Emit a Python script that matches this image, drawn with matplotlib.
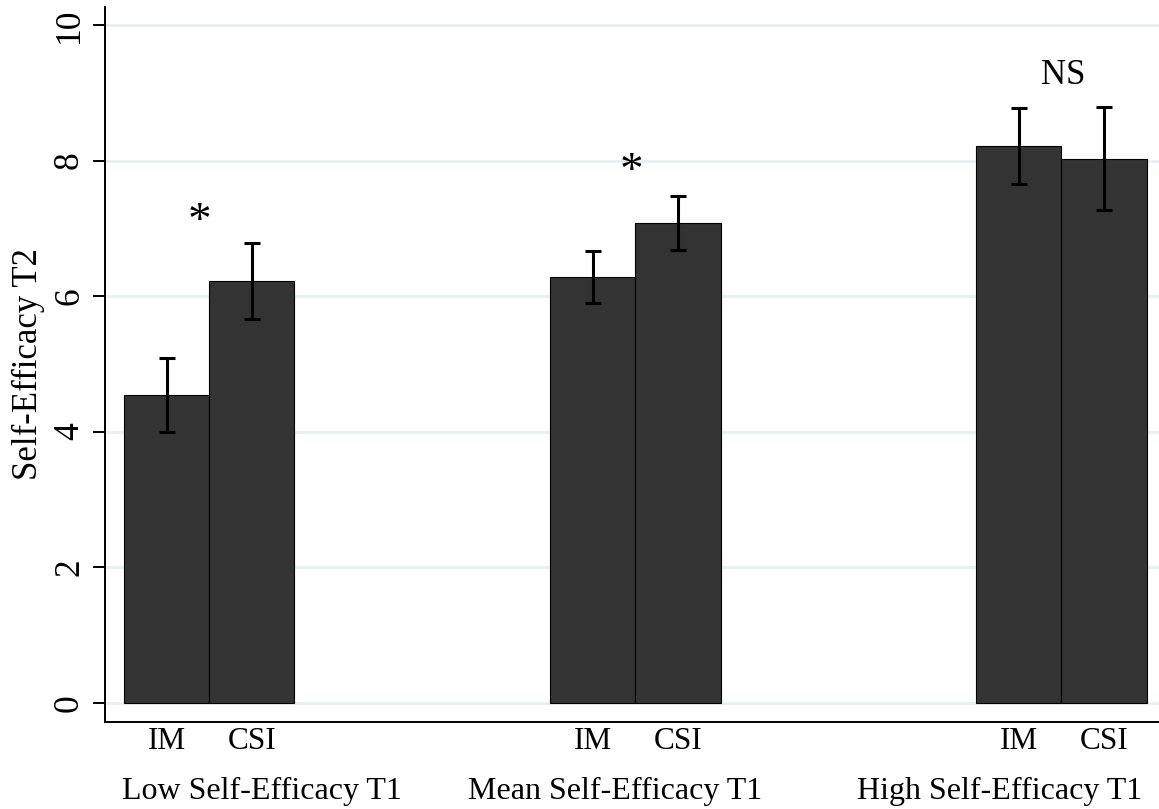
import numpy as np
import matplotlib
matplotlib.use("Agg")
import matplotlib.pyplot as plt

plt.rcParams.update({
    "font.family": "serif",
    "font.serif": ["Liberation Serif", "DejaVu Serif"],
})

BAR_C = "#333333"
GRID_C = "#E8F0F2"

# ---------------- data ----------------
groups = ["Low Self-Efficacy T1", "Mean Self-Efficacy T1", "High Self-Efficacy T1"]
conditions = ["IM", "CSI"]
im_mean = [4.54, 6.28, 8.22]
im_lo = [3.99, 5.90, 7.66]
im_hi = [5.09, 6.66, 8.77]
csi_mean = [6.23, 7.08, 8.03]
csi_lo = [5.66, 6.68, 7.27]
csi_hi = [6.79, 7.48, 8.79]
sig_labels = ["*", "*", "NS"]
sig_y = [6.91, 7.65, 9.13]

# ---------------- layout ----------------
W, H = 1159, 809
fig = plt.figure(figsize=(W / 100, H / 100), dpi=100)
ax = fig.add_axes([105 / W, (H - 722) / H, 1 - 105 / W, (722 - 7) / H])

centers = np.arange(len(groups)) * 5.0
bw = 1.0
x_im = centers - bw / 2
x_csi = centers + bw / 2

for xs, m, lo, hi in [(x_im, im_mean, im_lo, im_hi), (x_csi, csi_mean, csi_lo, csi_hi)]:
    m = np.array(m); lo = np.array(lo); hi = np.array(hi)
    ax.bar(xs, m, bw, color=BAR_C, edgecolor="black", linewidth=0.8, zorder=2)
    ax.errorbar(xs, m, yerr=[m - lo, hi - m], fmt="none", ecolor="black",
                elinewidth=2.2, capsize=5.5, capthick=2.2, zorder=3)

# significance markers, nudged a little off the group centre like the asterisks
sig_dx = [-0.11, -0.04, 0.02]
for c, dx, lab, y in zip(centers, sig_dx, sig_labels, sig_y):
    ax.text(c + dx, y, lab, ha="center", va="baseline",
            fontsize=34 if lab == "*" else 25)

ax.set_ylim(-0.285, 10.266)
ax.set_xlim(-1.224, 11.146)
ax.set_yticks([0, 2, 4, 6, 8, 10])
ax.set_yticklabels(["0", "2", "4", "6", "8", "10"], rotation=90, va="center")
ax.tick_params(axis="y", labelsize=25.5, length=8.6, width=1.4, pad=5)
ax.yaxis.grid(True, color=GRID_C, linewidth=2.0, zorder=0)
ax.set_axisbelow(True)

xt = np.concatenate([x_im, x_csi])
ax.set_xticks(np.sort(xt))
ax.set_xticklabels(conditions * len(groups))
ax.tick_params(axis="x", labelsize=22.5, length=0, pad=3.5)

trans = ax.get_xaxis_transform()
group_x = [0.62, 4.76, 9.28]
for gx, g in zip(group_x, groups):
    ax.text(gx, -77 / 715, g, transform=trans, ha="center", va="baseline",
            fontsize=23)

ax.set_ylabel("Self-Efficacy T2", fontsize=25, labelpad=6)

for s in ["top", "right"]:
    ax.spines[s].set_visible(False)
for s in ["left", "bottom"]:
    ax.spines[s].set_linewidth(1.4)

fig.savefig("out.png", dpi=100)
